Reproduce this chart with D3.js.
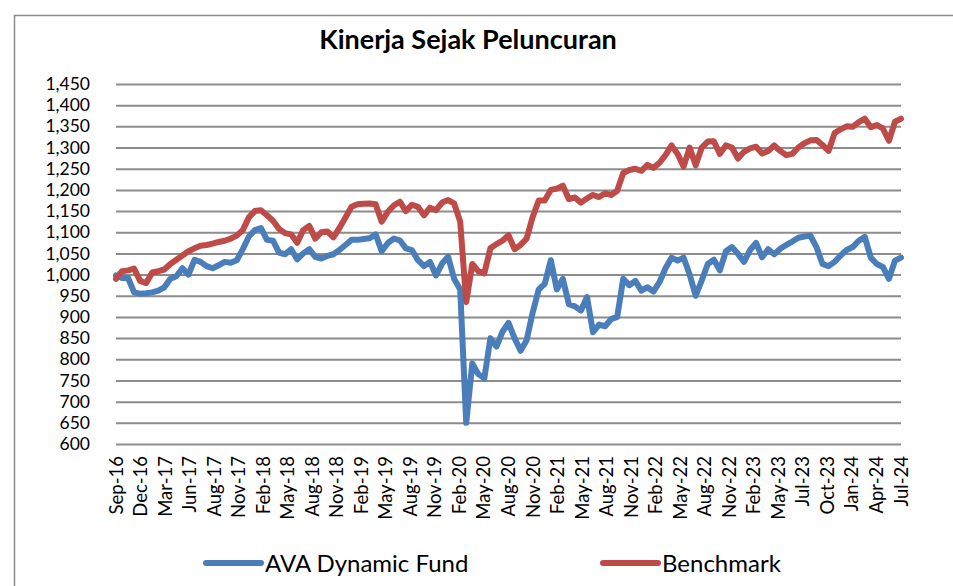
<!DOCTYPE html>
<html>
<head>
<meta charset="utf-8">
<script src="https://cdn.jsdelivr.net/npm/d3@7"></script>
<style>
  body { margin: 0; background: #fff; }
  svg text { font-family: Lato, "Open Sans", sans-serif; fill: #000; }
</style>
</head>
<body>
<div id="chart"></div>
<script>
const title = 'Kinerja Sejak Peluncuran';
const seriesNames = ['AVA Dynamic Fund', 'Benchmark'];
const xLabels = ['Sep-16','Dec-16','Mar-17','Jun-17','Aug-17','Nov-17','Feb-18','May-18','Aug-18','Nov-18',
  'Feb-19','May-19','Aug-19','Nov-19','Feb-20','May-20','Aug-20','Nov-20','Feb-21','May-21','Aug-21','Nov-21',
  'Feb-22','May-22','Aug-22','Nov-22','Feb-23','May-23','Jul-23','Oct-23','Jan-24','Apr-24','Jul-24'];
const yTicks = d3.range(600, 1451, 50);

// values, evenly spaced from Sep-16 to Jul-24
const fund = [998,992,992,958,955,956,958,962,970,990,996,1015,1000,1035,1030,1020,1015,1022,1030,1028,
  1034,1060,1090,1105,1110,1082,1080,1052,1048,1060,1036,1050,1060,1042,1038,1044,1048,1058,1070,1082,
  1082,1084,1086,1095,1055,1074,1085,1081,1062,1058,1034,1020,1030,998,1026,1042,990,965,650,790,
  765,755,850,830,865,886,850,820,845,910,965,978,1034,965,990,930,925,915,947,864,
  882,878,895,900,990,975,985,962,970,960,982,1015,1040,1033,1040,1000,950,986,1025,1035,
  1010,1055,1065,1049,1030,1058,1075,1041,1060,1048,1061,1070,1078,1087,1090,1092,1065,1025,1020,1030,
  1045,1058,1065,1080,1089,1040,1025,1018,990,1033,1040];
const benchmark = [990,1008,1010,1014,985,980,1005,1008,1012,1025,1035,1045,1055,1062,1068,1070,1073,1077,1080,1085,
  1092,1105,1135,1150,1152,1140,1127,1108,1098,1095,1075,1105,1115,1085,1100,1102,1088,1110,1135,1160,
  1166,1167,1168,1166,1125,1148,1163,1172,1150,1165,1160,1140,1158,1152,1170,1176,1168,1125,935,1025,
  1008,1003,1062,1072,1080,1093,1060,1070,1085,1136,1175,1175,1200,1203,1210,1178,1182,1170,1180,1188,
  1183,1192,1188,1198,1240,1247,1250,1245,1259,1252,1264,1282,1305,1285,1255,1300,1258,1300,1314,1315,
  1285,1305,1300,1274,1290,1298,1302,1286,1292,1305,1292,1282,1285,1300,1310,1317,1318,1306,1292,1334,
  1343,1350,1349,1360,1368,1348,1353,1345,1316,1361,1368];

const W = 953, H = 586;
const plot = {left: 116, right: 901, top: 84, bottom: 444};
const colors = {fund: '#4a7ebb', benchmark: '#be4b48'};

const svg = d3.select('#chart').append('svg')
  .attr('width', W).attr('height', H);

// chart border
svg.append('rect')
  .attr('x', 14.5).attr('y', 15.5)
  .attr('width', W + 20).attr('height', H + 20)
  .attr('fill', 'none').attr('stroke', '#8a8a8a').attr('stroke-width', 1.5);

svg.append('text')
  .attr('x', 468).attr('y', 49)
  .attr('text-anchor', 'middle')
  .style('font-size', '27px').style('font-weight', 'bold')
  .text(title);

const n = fund.length;
const x = d3.scaleLinear().domain([0, n - 1]).range([plot.left, plot.right]);
const y = d3.scaleLinear().domain([600, 1450]).range([plot.bottom, plot.top]);

// y axis: gridlines + labels
const yAxis = d3.axisLeft(y)
  .tickValues(yTicks)
  .tickSize(-(plot.right - plot.left))
  .tickPadding(26)
  .tickFormat(d3.format(','));
const gy = svg.append('g')
  .attr('transform', `translate(${plot.left},0)`)
  .call(yAxis);
gy.select('.domain').remove();
gy.selectAll('.tick line').attr('stroke', '#8c8c8c').attr('stroke-width', 2);
gy.selectAll('.tick text').style('font-size', '17.5px').attr('fill', '#000');

// x axis labels, spread evenly across the category axis
const xPos = d3.scaleLinear().domain([0, xLabels.length - 1]).range([0, n - 1]);
svg.append('g').selectAll('text')
  .data(xLabels)
  .join('text')
  .attr('transform', (d, i) => `translate(${x(xPos(i)) + 6.5},${plot.bottom + 12}) rotate(-90)`)
  .attr('text-anchor', 'end')
  .style('font-size', '18.5px')
  .text(d => d);

const line = d3.line()
  .x((d, i) => x(i))
  .y(d => y(d))
  .curve(d3.curveLinear);

svg.append('path')
  .datum(fund)
  .attr('d', line)
  .attr('fill', 'none')
  .attr('stroke', colors.fund)
  .attr('stroke-width', 6)
  .attr('stroke-linejoin', 'round')
  .attr('stroke-linecap', 'round');

svg.append('path')
  .datum(benchmark)
  .attr('d', line)
  .attr('fill', 'none')
  .attr('stroke', colors.benchmark)
  .attr('stroke-width', 6)
  .attr('stroke-linejoin', 'round')
  .attr('stroke-linecap', 'round');

// legend
const legend = [
  {name: seriesNames[0], color: colors.fund, x: 206},
  {name: seriesNames[1], color: colors.benchmark, x: 603}
];
const lg = svg.append('g').selectAll('g')
  .data(legend)
  .join('g')
  .attr('transform', d => `translate(${d.x},563)`);
lg.append('line')
  .attr('x1', 0).attr('x2', 55)
  .attr('stroke', d => d.color)
  .attr('stroke-width', 6)
  .attr('stroke-linecap', 'round');
lg.append('text')
  .attr('x', 59).attr('y', 8.5)
  .style('font-size', '24px')
  .text(d => d.name);
</script>
</body>
</html>
